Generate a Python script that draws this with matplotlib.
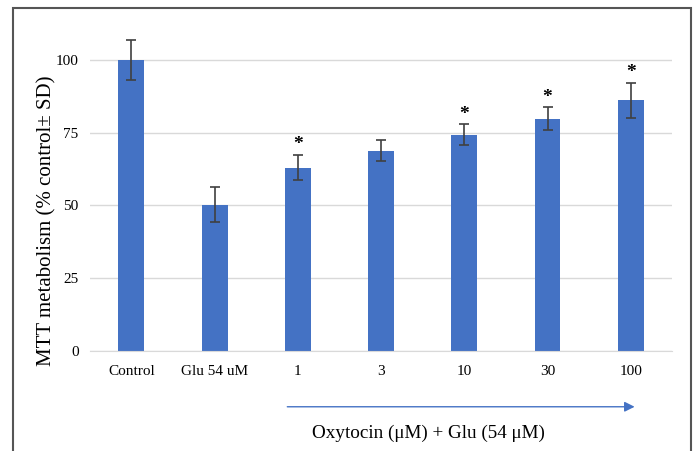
import matplotlib.pyplot as plt
from matplotlib.patches import Rectangle

# data
groups = ['Control', 'Glu 54 uM', '1', '3', '10', '30', '100']
mtt = [100, 50.2, 63.0, 68.8, 74.3, 79.8, 86.2]
sd = [7.0, 6.0, 4.4, 3.5, 3.5, 4.0, 6.0]
signif = [False, False, True, False, True, True, True]

serif = ['Liberation Serif', 'DejaVu Serif']
bar_color = '#4472C4'

fig = plt.figure(figsize=(6.96, 4.51), dpi=100)
ax = fig.add_axes([0.129, 0.222, 0.837, 0.742])

x = list(range(len(groups)))
ax.bar(x, mtt, width=0.31, color=bar_color, zorder=2)
ax.errorbar(x, mtt, yerr=sd, fmt='none', ecolor='#404040', elinewidth=1.2,
            capsize=3.5, capthick=1.2, zorder=3)

# significance stars
for xi, v, e, s in zip(x, mtt, sd, signif):
    if s:
        ax.annotate('*', (xi, v + e), xytext=(0, 1), textcoords='offset points',
                    ha='center', va='bottom', fontsize=14, family=serif, fontweight='bold')

ax.set_xlim(-0.5, 6.5)
ax.set_ylim(0, 115)
ax.set_yticks([0, 25, 50, 75, 100])
ax.set_xticks(x)
ax.set_xticklabels(groups, family=serif, fontsize=11)
for lbl in ax.get_yticklabels():
    lbl.set_family(serif)
    lbl.set_fontsize(11)
ax.tick_params(axis='y', length=0, pad=8)
ax.tick_params(axis='x', length=0, pad=10)
ax.yaxis.grid(True, color='#d9d9d9', lw=1, zorder=0)
ax.set_axisbelow(True)
for side in ['top', 'right', 'left']:
    ax.spines[side].set_visible(False)
ax.spines['bottom'].set_color('#d9d9d9')
ax.set_ylabel('MTT metabolism (% control± SD)', family=serif, fontsize=15)
ax.yaxis.set_label_coords(-0.058, 0.39)

# arrow and label for oxytocin concentrations
tr = ax.get_xaxis_transform()
ax.annotate('', xy=(6.08, -0.167), xytext=(1.84, -0.167), xycoords=tr, textcoords=tr,
            arrowprops=dict(arrowstyle='-|>', color=bar_color, lw=1, mutation_scale=15),
            annotation_clip=False)
ax.text(3.57, -0.245, 'Oxytocin (μM) + Glu (54 μM)', transform=tr, ha='center', va='center',
        family=serif, fontsize=13.8)

# outer frame
fig.patches.append(Rectangle((13 / 696, -0.05), (691 - 13) / 696, 1.05 - 8 / 451,
                             transform=fig.transFigure, fill=False, edgecolor='#555555', lw=1.5))

fig.savefig('out.png', dpi=100)
